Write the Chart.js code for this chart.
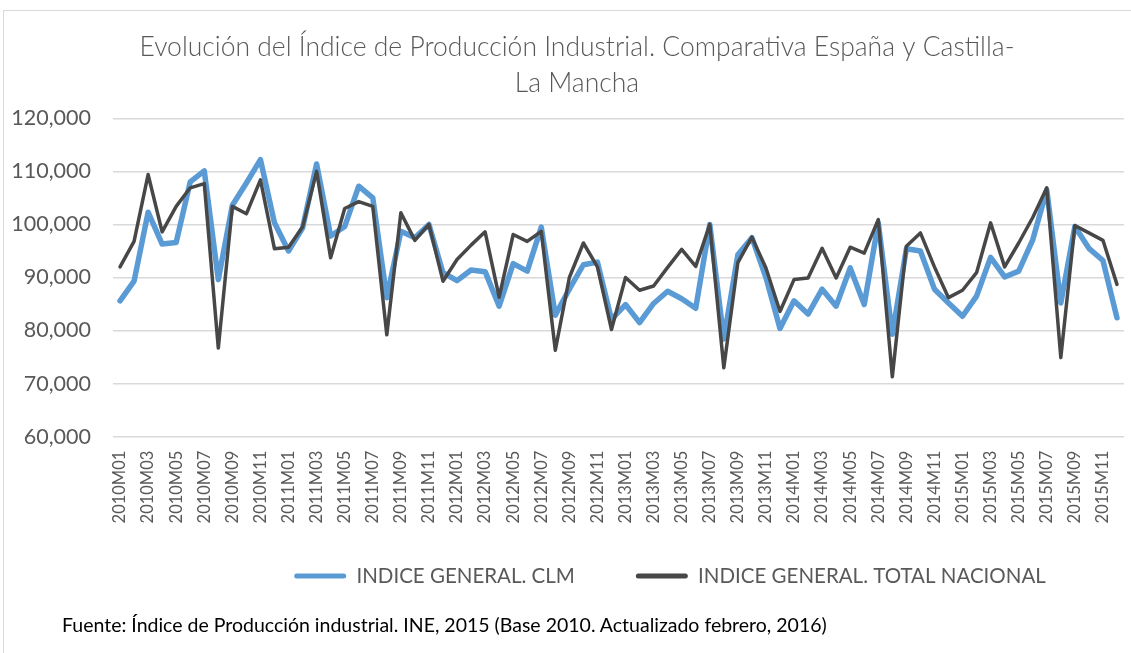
<!DOCTYPE html>
<html>
<head>
<meta charset="utf-8">
<script src="https://cdn.jsdelivr.net/npm/chart.js@4.4.1/dist/chart.umd.min.js"></script>
<style>
html,body{margin:0;padding:0;background:#fff;overflow:hidden;width:1131px;height:653px;}
#frame{position:absolute;left:3px;top:10px;width:1300px;height:800px;border-left:1px solid #d9d9d9;border-top:1px solid #d9d9d9;}
#wrap{position:absolute;left:0;top:0;width:1131px;height:650px;}
#note{position:absolute;left:62px;top:613px;font-family:Lato,"Open Sans",sans-serif;font-size:19.5px;color:#000;white-space:nowrap;}
</style>
</head>
<body>
<div id="frame"></div>
<div id="wrap"><canvas id="c"></canvas></div>
<div id="note">Fuente: Índice de Producción industrial. INE, 2015 (Base 2010. Actualizado febrero, 2016)</div>
<script>
const titleLines = ['Evolución del Índice de Producción Industrial. Comparativa España y Castilla-', 'La Mancha'];
const seriesNames = ['INDICE GENERAL. CLM', 'INDICE GENERAL. TOTAL NACIONAL'];

const months = [
  '2010M01','2010M02','2010M03','2010M04','2010M05','2010M06','2010M07','2010M08','2010M09','2010M10','2010M11','2010M12',
  '2011M01','2011M02','2011M03','2011M04','2011M05','2011M06','2011M07','2011M08','2011M09','2011M10','2011M11','2011M12',
  '2012M01','2012M02','2012M03','2012M04','2012M05','2012M06','2012M07','2012M08','2012M09','2012M10','2012M11','2012M12',
  '2013M01','2013M02','2013M03','2013M04','2013M05','2013M06','2013M07','2013M08','2013M09','2013M10','2013M11','2013M12',
  '2014M01','2014M02','2014M03','2014M04','2014M05','2014M06','2014M07','2014M08','2014M09','2014M10','2014M11','2014M12',
  '2015M01','2015M02','2015M03','2015M04','2015M05','2015M06','2015M07','2015M08','2015M09','2015M10','2015M11','2015M12'
];

const clm = [
  85.6, 89.3, 102.3, 96.3, 96.6, 108.0, 110.1, 89.6, 103.6, 107.8, 112.2, 100.3,
  95.0, 99.3, 111.4, 97.8, 99.6, 107.2, 105.0, 86.2, 98.7, 97.5, 100.0, 90.9,
  89.4, 91.4, 91.1, 84.6, 92.6, 91.2, 99.5, 82.9, 87.8, 92.4, 92.9, 82.1,
  84.9, 81.5, 85.1, 87.4, 86.0, 84.2, 100.0, 78.4, 94.3, 97.5, 90.0, 80.4,
  85.6, 83.1, 87.8, 84.6, 91.8, 84.9, 100.3, 79.3, 95.4, 95.0, 87.8, 85.2,
  82.7, 86.5, 93.8, 90.1, 91.2, 97.1, 106.5, 85.2, 99.6, 95.5, 93.2, 82.4
];

const nacional = [
  92.0, 96.8, 109.4, 98.6, 103.4, 106.9, 107.7, 76.7, 103.4, 102.0, 108.4, 95.4,
  95.7, 99.5, 110.0, 93.7, 103.0, 104.3, 103.4, 79.2, 102.2, 97.0, 100.0, 89.3,
  93.4, 96.1, 98.6, 86.3, 98.1, 96.8, 98.7, 76.3, 90.0, 96.5, 92.0, 80.2,
  90.0, 87.6, 88.4, 91.9, 95.3, 92.1, 100.0, 73.0, 92.8, 97.6, 91.8, 83.6,
  89.6, 89.9, 95.5, 89.9, 95.7, 94.6, 100.9, 71.3, 95.9, 98.4, 92.0, 86.2,
  87.6, 90.9, 100.3, 92.0, 96.5, 101.3, 106.9, 74.9, 99.8, 98.4, 97.0, 88.7
];

const yTickValues = [60, 70, 80, 90, 100, 110, 120];
const yTickLabels = ['60,000', '70,000', '80,000', '90,000', '100,000', '110,000', '120,000'];

const colors = ['#5b9bd5', '#474747'];
const textColor = '#595959';
const legendPad = 61;
const legendFont = 20.5;

const placePlugin = {
  id: 'place',
  afterLayout(chart) {
    const t = chart.titleBlock;
    if (t) {
      const s = 577 - (t.left + t.right) / 2;
      t.left += s; t.right += s;
    }
    const L = chart.legend;
    if (L) {
      const s = 670 - (L.left + L.right) / 2;
      L.left += s; L.right += s;
      const h = L.bottom - L.top;
      L.top = 576 - legendPad - legendFont / 2;
      L.bottom = L.top + h;
    }
  }
};

new Chart(document.getElementById('c'), {
  type: 'line',
  data: {
    labels: months,
    datasets: [
      { label: seriesNames[0], data: clm, borderColor: colors[0], backgroundColor: colors[0],
        borderWidth: 5.5, pointRadius: 0, tension: 0, borderJoinStyle: 'round', borderCapStyle: 'round', order: 2 },
      { label: seriesNames[1], data: nacional, borderColor: colors[1], backgroundColor: colors[1],
        borderWidth: 3.5, pointRadius: 0, tension: 0, borderJoinStyle: 'round', borderCapStyle: 'round', order: 1 }
    ]
  },
  options: {
    responsive: true,
    maintainAspectRatio: false,
    animation: false,
    devicePixelRatio: 1,
    layout: { padding: { left: 0, right: 7, top: 0, bottom: 0 } },
    plugins: {
      tooltip: { enabled: false },
      title: {
        display: true,
        text: titleLines,
        color: textColor,
        font: { family: 'Lato', size: 26.5, weight: '300', lineHeight: 1.36 },
        padding: { top: 29, bottom: 17.2 }
      },
      legend: {
        position: 'bottom',
        labels: {
          font: { family: 'Lato', size: legendFont },
          color: textColor,
          boxWidth: 52,
          boxHeight: 5,
          padding: legendPad,
          generateLabels: () => seriesNames.map((n, i) => ({
            text: n, fillStyle: colors[i], strokeStyle: colors[i], lineWidth: 0,
            borderRadius: 2.5, datasetIndex: i, hidden: false, fontColor: textColor
          }))
        }
      }
    },
    scales: {
      x: {
        offset: true,
        grid: { display: false, drawTicks: false },
        border: { display: false },
        ticks: {
          autoSkip: false, minRotation: 90, maxRotation: 90, padding: 14,
          color: textColor, font: { family: 'Lato', size: 16.5 },
          callback: (v, i) => (i % 2 === 0 ? months[i] : '')
        },
        afterFit(scale) {
          const ch = scale.chart;
          scale.height = ch.height - 436.7 - (ch.legend ? ch.legend.height : 0);
          scale.paddingRight = 0;
          scale.paddingLeft = 0;
        }
      },
      y: {
        min: 60, max: 120,
        afterBuildTicks(scale) { scale.ticks = yTickValues.map(v => ({ value: v })); },
        grid: { color: '#d9d9d9', lineWidth: 1.5, drawTicks: false },
        border: { display: false },
        ticks: {
          padding: 22, color: textColor, font: { family: 'Lato', size: 21.5 },
          callback: (v) => yTickLabels[yTickValues.indexOf(v)]
        },
        afterFit(scale) { scale.width = 113; }
      }
    }
  },
  plugins: [placePlugin]
});
</script>
</body>
</html>
